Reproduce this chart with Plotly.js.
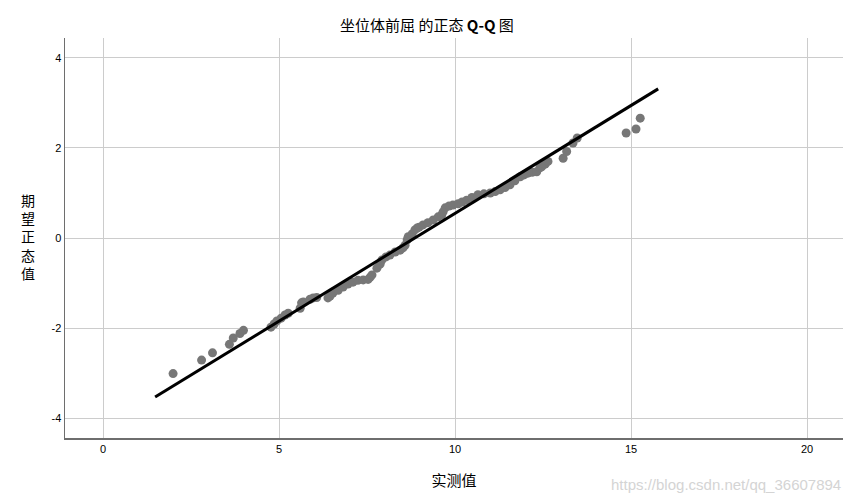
<!DOCTYPE html>
<html>
<head>
<meta charset="utf-8">
<script src="https://cdn.plot.ly/plotly-3.0.1.min.js"></script>
<style>
  html, body { margin: 0; padding: 0; background: #fff; }
  #app { width: 854px; height: 504px; }
</style>
</head>
<body>
<div id="app"></div>
<script>
const observed = [
  1.99, 2.80, 3.11, 3.59, 3.70, 3.89, 3.99,
  4.77, 4.86, 4.94, 5.06, 5.17, 5.26,
  5.60, 5.64, 5.69, 5.88, 5.97, 6.07, 6.39, 6.45, 6.53, 6.68, 6.82, 6.96,
  7.10, 7.24, 7.39, 7.53, 7.59, 7.64, 7.78, 7.87, 7.92, 8.04, 8.15, 8.30,
  8.44, 8.52, 8.58, 8.64, 8.67, 8.78, 8.86, 8.92, 8.98, 9.09, 9.23, 9.38,
  9.52, 9.62, 9.66, 9.72, 9.83, 9.94, 10.09, 10.20, 10.33, 10.48, 10.65,
  10.82, 11.00, 11.14, 11.28, 11.42, 11.56, 11.70, 11.85, 11.96, 12.07,
  12.19, 12.32, 12.41, 12.46, 12.56, 12.64, 13.07, 13.17, 13.35, 13.47,
  14.86, 15.14, 15.26
];
const expected = [
  -3.01, -2.71, -2.55, -2.36, -2.22, -2.12, -2.05,
  -1.98, -1.91, -1.84, -1.78, -1.71, -1.67,
  -1.56, -1.44, -1.42, -1.36, -1.33, -1.32, -1.33, -1.29, -1.22, -1.16, -1.09, -1.02,
  -0.98, -0.94, -0.93, -0.92, -0.87, -0.82, -0.67, -0.58, -0.49, -0.42, -0.38, -0.31,
  -0.27, -0.22, -0.16, -0.04, 0.03, 0.09, 0.18, 0.22, 0.24, 0.29, 0.34, 0.40,
  0.47, 0.51, 0.58, 0.67, 0.71, 0.73, 0.76, 0.80, 0.84, 0.90, 0.96,
  0.98, 1.00, 1.03, 1.07, 1.12, 1.18, 1.27, 1.36, 1.40, 1.44,
  1.46, 1.47, 1.56, 1.58, 1.64, 1.70, 1.77, 1.92, 2.11, 2.22,
  2.33, 2.42, 2.66
];
// reference line ends
const lineX = [1.48, 15.77];
const lineY = [-3.53, 3.31];

const xTicks = [0, 5, 10, 15, 20];
const yTicks = [-4, -2, 0, 2, 4];

const titleText = '坐位体前屈 的正态 <b>Q-Q</b> 图';
const xTitle = '实测值';
const yTitle = ['期', '望', '正', '态', '值'];

const cjk = '"Noto Sans CJK SC", "Liberation Sans", sans-serif';

const traces = [
  {
    x: observed,
    y: expected,
    type: 'scatter',
    mode: 'markers',
    marker: { size: 9, color: '#777777' },
    hoverinfo: 'x+y',
  },
  {
    x: lineX,
    y: lineY,
    type: 'scatter',
    mode: 'lines',
    line: { color: '#000000', width: 3 },
  },
];

const layout = {
  width: 854,
  height: 504,
  showlegend: false,
  paper_bgcolor: '#ffffff',
  plot_bgcolor: '#ffffff',
  margin: { l: 65, r: 11, t: 38, b: 66 },
  title: {
    text: titleText,
    font: { family: cjk, size: 15, color: '#000' },
    x: 0.5,
    xanchor: 'center',
    y: 0.948,
    yanchor: 'middle',
  },
  xaxis: {
    range: [-1.08, 21.02],
    tickvals: xTicks,
    ticktext: xTicks.map(String),
    showgrid: true,
    gridcolor: '#cccccc',
    gridwidth: 1,
    zeroline: false,
    showline: true,
    linecolor: '#6e6e6e',
    linewidth: 1.5,
    ticks: '',
    tickfont: { family: 'Liberation Sans, Arial, sans-serif', size: 11, color: '#000' },
    title: {
      text: xTitle,
      font: { family: cjk, size: 15, color: '#000' },
      standoff: 22,
    },
  },
  yaxis: {
    range: [-4.44, 4.44],
    tickvals: yTicks,
    ticktext: yTicks.map(String),
    showgrid: true,
    gridcolor: '#cccccc',
    gridwidth: 1,
    zeroline: false,
    showline: true,
    linecolor: '#6e6e6e',
    linewidth: 1.5,
    ticks: '',
    ticklen: 0,
    tickfont: { family: 'Liberation Sans, Arial, sans-serif', size: 11, color: '#000' },
  },
  annotations: [
    {
      text: yTitle.join('<br>'),
      xref: 'paper',
      yref: 'paper',
      x: -0.048,
      y: 0.505,
      xanchor: 'center',
      yanchor: 'middle',
      showarrow: false,
      font: { family: cjk, size: 14, color: '#000' },
    },
    {
      text: 'https://blog.csdn.net/qq_36607894',
      xref: 'paper',
      yref: 'paper',
      x: 1.0,
      y: -0.115,
      xanchor: 'right',
      yanchor: 'middle',
      showarrow: false,
      font: { family: 'Liberation Sans, Arial, sans-serif', size: 15, color: '#d4d4d4' },
    },
  ],
};

Plotly.newPlot('app', traces, layout, { displayModeBar: false, staticPlot: true });
</script>
</body>
</html>
